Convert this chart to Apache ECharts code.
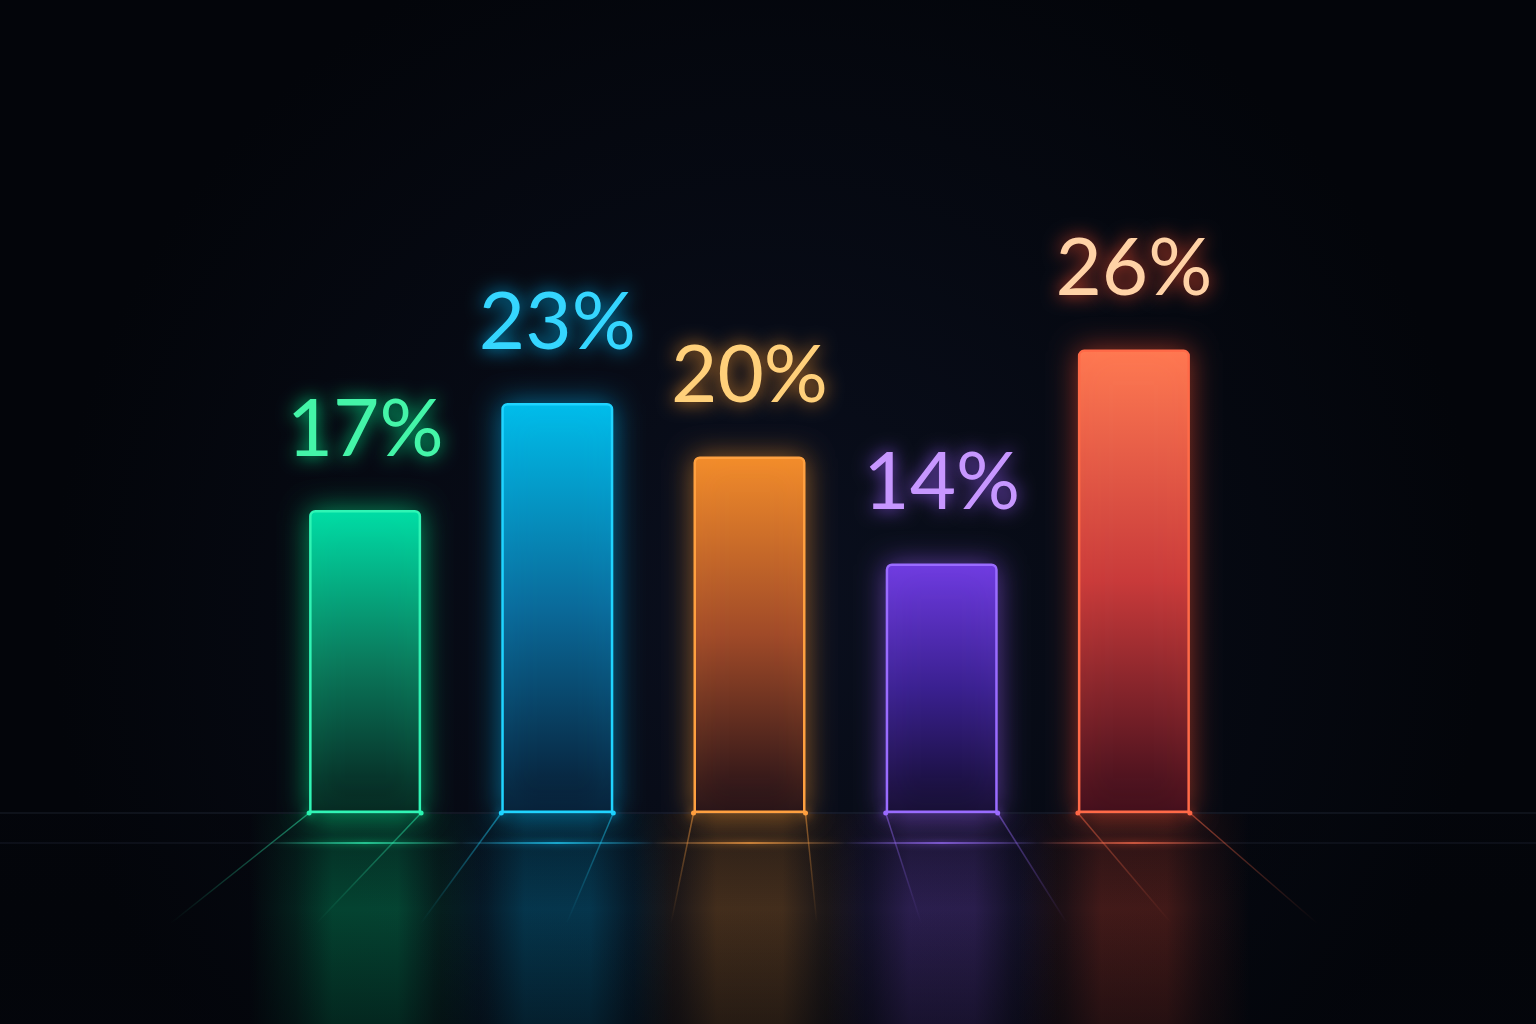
<!DOCTYPE html>
<html>
<head>
<meta charset="utf-8">
<title>Neon bars</title>
<script src="https://cdn.jsdelivr.net/npm/echarts@6/dist/echarts.min.js"></script>
<style>
  html, body { margin: 0; padding: 0; background: #04060c; }
  #chartdiv { width: 1536px; height: 1024px; }
</style>
</head>
<body>
<div id="chartdiv"></div>
<script>
// values (percent)
var categories = ['A', 'B', 'C', 'D', 'E'];
var values = [17, 23, 20, 14, 26];

// neon palette, one entry per bar
var fillTop    = ['#00dca6', '#00bdea', '#f28c2a', '#6e3ae0', '#ff7a52'];
var fillMid    = ['#0a7a5c', '#0a6a9a', '#a04a28', '#3a2090', '#c83a3a'];
var fillBottom = ['#06201c', '#071a30', '#1e0e16', '#120c2c', '#3a0c1a'];
var edgeColors = ['#30f5b5', '#20d4ff', '#ffa040', '#9a6cff', '#ff6a48'];
var glowColors = ['#00ff99', '#00bfff', '#ff9a30', '#9a5cff', '#ff5030'];
var labelColors = ['#44f5a8', '#35d6ff', '#ffd07a', '#c797ff', '#ffd2a6'];

var BAR_W = 112;

function hexA(hex, a) {
    var n = parseInt(hex.slice(1), 16);
    return 'rgba(' + (n >> 16) + ',' + ((n >> 8) & 255) + ',' + (n & 255) + ',' + a + ')';
}

var barData = values.map(function(v, i) {
    return {
        value: v,
        itemStyle: {
            color: new echarts.graphic.LinearGradient(0, 0, 0, 1, [
                { offset: 0, color: fillTop[i] },
                { offset: 0.5, color: fillMid[i] },
                { offset: 1, color: fillBottom[i] }
            ]),
            borderColor: edgeColors[i],
            shadowColor: hexA(glowColors[i], 0.55)
        },
        label: {
            color: labelColors[i],
            textShadowColor: hexA(glowColors[i], 0.9)
        }
    };
});

// floor, perspective lines and reflections, drawn under each bar
function renderFloor(params, api) {
    var i = params.dataIndex;
    var base = api.coord([api.value(0), 0]);
    var cx = base[0], by = Math.round(base[1]);
    var W = api.getWidth(), H = api.getHeight();
    var vx = W / 2;
    var left = cx - BAR_W / 2, right = cx + BAR_W / 2;
    var c = glowColors[i];
    var children = [];

    // reflection band, faded at its sides
    children.push({
        type: 'rect',
        z2: 0,
        shape: { x: left - 60, y: by + 1, width: BAR_W + 120, height: H - by },
        style: {
            fill: new echarts.graphic.LinearGradient(0, 0, 1, 0, [
                { offset: 0, color: hexA(c, 0) },
                { offset: 0.2, color: hexA(c, 0.1) },
                { offset: 0.36, color: hexA(c, 0.24) },
                { offset: 0.64, color: hexA(c, 0.24) },
                { offset: 0.8, color: hexA(c, 0.1) },
                { offset: 1, color: hexA(c, 0) }
            ])
        }
    });

    if (i === 0) {
        // darken the reflections near the floor line and at the bottom edge
        children.push({
            type: 'rect',
            z2: 1,
            shape: { x: 0, y: by + 1, width: W, height: H - by },
            style: {
                fill: new echarts.graphic.LinearGradient(0, 0, 0, 1, [
                    { offset: 0, color: 'rgba(4,6,12,0.4)' },
                    { offset: 0.45, color: 'rgba(4,6,12,0)' },
                    { offset: 1, color: 'rgba(4,6,12,0.45)' }
                ])
            }
        });
        children.push({
            type: 'line', z2: 2, shape: { x1: 0, y1: by, x2: W, y2: by },
            style: { stroke: 'rgba(110,130,170,0.22)', lineWidth: 1.2 }
        });
        children.push({
            type: 'line', z2: 2, shape: { x1: 0, y1: by + 30, x2: W, y2: by + 30 },
            style: { stroke: 'rgba(110,130,170,0.18)', lineWidth: 1.2 }
        });
    }

    // perspective lines from the bar's feet
    [left, right].forEach(function(x0) {
        var dy = 110;
        var dx = (x0 - vx) * 0.082 * (dy / 30);
        children.push({
            type: 'line',
            z2: 2,
            shape: { x1: x0, y1: by, x2: x0 + dx, y2: by + dy },
            style: {
                stroke: new echarts.graphic.LinearGradient(0, 0, 0, 1, [
                    { offset: 0, color: hexA(edgeColors[i], 0.5) },
                    { offset: 1, color: hexA(edgeColors[i], 0) }
                ]),
                lineWidth: 1.5
            }
        });
        children.push({
            type: 'circle', z2: 3, shape: { cx: x0, cy: by, r: 2.5 },
            style: { fill: edgeColors[i], shadowBlur: 10, shadowColor: c }
        });
    });

    // colored segment on the floor lines
    children.push({
        type: 'line', z2: 2, shape: { x1: left, y1: by, x2: right, y2: by },
        style: { stroke: hexA(edgeColors[i], 0.45), lineWidth: 1.2 }
    });
    children.push({
        type: 'line', z2: 2, shape: { x1: left - 40, y1: by + 30, x2: right + 40, y2: by + 30 },
        style: {
            stroke: new echarts.graphic.LinearGradient(0, 0, 1, 0, [
                { offset: 0, color: hexA(edgeColors[i], 0) },
                { offset: 0.5, color: hexA(edgeColors[i], 0.9) },
                { offset: 1, color: hexA(edgeColors[i], 0) }
            ]),
            lineWidth: 1.5,
            shadowBlur: 6,
            shadowColor: c
        }
    });

    return { type: 'group', children: children };
}

var options = {
    animation: false,
    backgroundColor: new echarts.graphic.RadialGradient(0.5, 0.6, 0.7, [
        { offset: 0, color: '#0a0f1e' },
        { offset: 1, color: '#03050a' }
    ]),
    grid: {
        left: 269,
        right: 306,
        top: 100,
        bottom: 211
    },
    xAxis: {
        type: 'category',
        data: categories,
        show: false
    },
    yAxis: {
        type: 'value',
        min: 0,
        max: 40,
        show: false,
        splitLine: { show: false }
    },
    series: [
        {
            name: 'floor',
            type: 'custom',
            renderItem: renderFloor,
            data: values.map(function(v, i) { return [i, v]; }),
            encode: { x: 0, y: 1 },
            z: 1,
            silent: true
        },
        {
            name: 'share',
            type: 'bar',
            data: barData,
            barWidth: BAR_W,
            z: 3,
            itemStyle: {
                borderWidth: 2.5,
                borderRadius: [5, 5, 0, 0],
                shadowBlur: 28
            },
            label: {
                show: true,
                position: 'top',
                distance: 40,
                formatter: '{c}%',
                fontFamily: 'Lato',
                fontSize: 80,
                fontWeight: 400,
                textShadowBlur: 18
            }
        }
    ]
};

var chartDom = document.getElementById('chartdiv');
var plot = echarts.init(chartDom);
plot.setOption(options);
</script>
</body>
</html>
